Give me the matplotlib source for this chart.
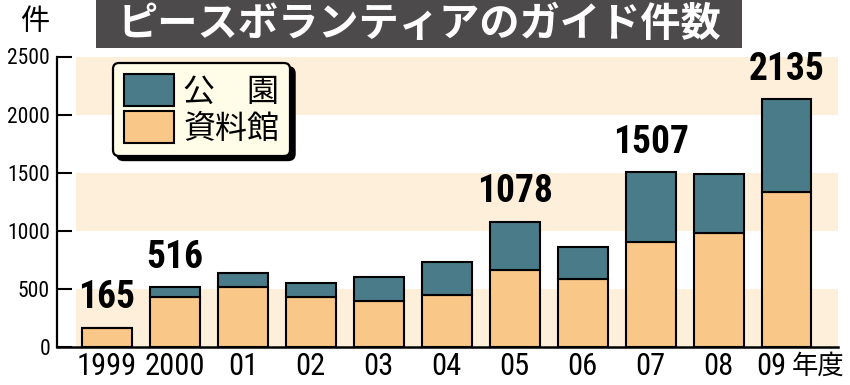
import matplotlib
matplotlib.use("Agg")
import matplotlib.pyplot as plt
from matplotlib import font_manager
from matplotlib.patches import Patch, Rectangle
import numpy as np

# ##################################################################
# data
# ##################################################################
years = ["1999", "2000", "01", "02", "03", "04", "05", "06", "07", "08", "09"]
shiryokan = [165, 425, 510, 425, 397, 448, 659, 581, 903, 980, 1334]
koen = [0, 91, 122, 124, 204, 280, 419, 276, 604, 506, 801]
labeled = {"1999": 165, "2000": 516, "05": 1078, "07": 1507, "09": 2135}
yticks = [0, 500, 1000, 1500, 2000, 2500]

TEAL = "#4a7b88"
ORANGE = "#f9c787"
BAND = "#fdefda"
CJK = "Noto Sans CJK JP"

names = {f.name for f in font_manager.fontManager.ttflist}
NARROW = next((n for n in ["Liberation Sans Narrow", "Roboto Condensed",
                           "DejaVu Sans Condensed"] if n in names), "DejaVu Sans")
num_font = dict(family=NARROW, stretch="condensed")

W, H = 850, 385
fig = plt.figure(figsize=(8.5, 3.85), dpi=100)
fig.patch.set_facecolor("white")

# axes placed in pixels: x from 57 to 838, y(0)=346.7, y(2500)=56.5
ax = fig.add_axes([57 / W, 1 - 346.7 / H, 781 / W, (346.7 - 56.5) / H])
spacing = 67.95
ax.set_xlim((57 - 107) / spacing, (838 - 107) / spacing)
ax.set_ylim(0, 2500)

# background bands
band_x0 = (76 - 57) / 781
for lo in (0, 1000, 2000):
    ax.axhspan(lo, lo + 500, xmin=band_x0, xmax=1, color=BAND, lw=0, zorder=0)

x = np.arange(len(years))
total = np.array(shiryokan) + np.array(koen)
ax.bar(x, shiryokan, width=0.735, color=ORANGE, edgecolor="black", lw=1.5, zorder=2)
ax.bar(x, koen, bottom=shiryokan, width=0.735, color=TEAL, edgecolor="black",
       lw=1.5, zorder=2)

for i, yr in enumerate(years):
    if yr in labeled:
        ax.annotate(str(labeled[yr]), (x[i], total[i]), xytext=(0, 8),
                    textcoords="offset points", ha="center", va="bottom",
                    fontsize=27, fontweight="bold", clip_on=False, **num_font)

# axes styling
for s in ("top", "right"):
    ax.spines[s].set_visible(False)
ax.spines["left"].set_linewidth(1.6)
ax.spines["bottom"].set_linewidth(1.8)
ax.set_yticks(yticks)
ax.set_yticklabels([str(v) for v in yticks], fontsize=15.5, **num_font)
ax.tick_params(axis="y", direction="in", length=11, width=1.5, pad=5)
ax.set_xticks(x[:-1])
ax.set_xticklabels(years[:-1], fontsize=22, **num_font)
ax.tick_params(axis="x", length=0, pad=4)
ax.text(x[-1], -0.017, years[-1], transform=ax.get_xaxis_transform(),
        ha="right", va="top", fontsize=22, **num_font)
ax.text(x[-1] + 0.08, -0.022, "年度", transform=ax.get_xaxis_transform(),
        ha="left", va="top", fontsize=19, family=CJK)

# legend
handles = [Patch(facecolor=TEAL, edgecolor="black", lw=1.5),
           Patch(facecolor=ORANGE, edgecolor="black", lw=1.5)]
leg = ax.legend(handles, ["公\u3000園", "資料館"], loc="upper left",
                bbox_to_anchor=(113 / W, 1 - 63 / H), bbox_transform=fig.transFigure,
                borderaxespad=0, fancybox=True, framealpha=1,
                facecolor="#fffde8", edgecolor="black",
                shadow={"color": "black", "alpha": 1, "ox": 3, "oy": -3},
                prop={"family": CJK, "size": 23}, handlelength=1.55,
                handleheight=1.15, handletextpad=0.3, labelspacing=0.1,
                borderpad=0.35)
leg.get_frame().set_linewidth(1.6)
leg.set_zorder(5)

# title box
fig.patches.append(Rectangle((96 / W, 1 - 48 / H), (742 - 96) / W, 48 / H,
                             transform=fig.transFigure, facecolor="#4d4a4b",
                             edgecolor="none", zorder=0))
fig.text((96 + 742) / 2 / W, 1 - 24 / H, "ピースボランティアのガイド件数",
         ha="center", va="center", color="white", fontsize=29,
         fontweight="bold", family=CJK)
fig.text(35 / W, 1 - 22 / H, "件", ha="center", va="center", fontsize=21,
         family=CJK)

fig.savefig("out.png", dpi=100)
